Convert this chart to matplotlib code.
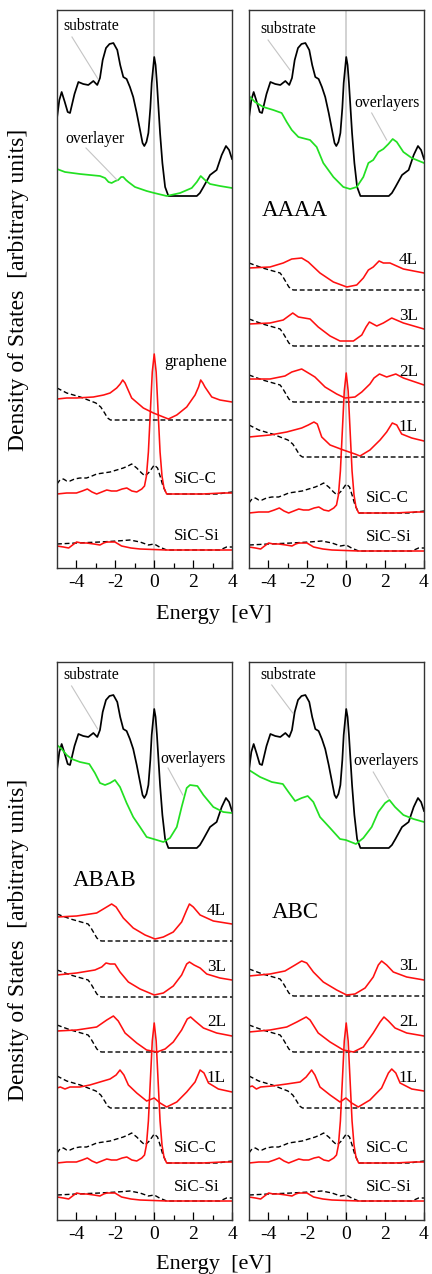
import matplotlib.pyplot as plt

plt.rcParams['font.family'] = ['Liberation Serif', 'DejaVu Serif']
plt.rcParams['lines.solid_joinstyle'] = 'round'

# energies in eV, DOS in arbitrary (plot) units
# bulk substrate DOS, identical in all four panels
substrate = [(-5.0, 450), (-4.88, 468), (-4.76, 476), (-4.6, 466), (-4.45, 456), (-4.33, 455),
             (-4.1, 474), (-3.9, 486), (-3.65, 484), (-3.39, 483), (-3.13, 487), (-2.93, 483),
             (-2.79, 490), (-2.65, 508), (-2.48, 520), (-2.3, 524), (-2.1, 525), (-1.9, 518),
             (-1.75, 503), (-1.59, 491), (-1.42, 489), (-1.25, 481), (-1.08, 471), (-0.9, 455),
             (-0.73, 438), (-0.6, 425), (-0.51, 422), (-0.4, 426), (-0.3, 435), (-0.2, 460),
             (-0.13, 485), (0.0, 511), (0.07, 503), (0.14, 485), (0.22, 460), (0.3, 435),
             (0.42, 405), (0.56, 381), (0.73, 372), (2.19, 372), (2.35, 375), (2.53, 381),
             (2.87, 393), (3.21, 398), (3.47, 413), (3.69, 422), (3.85, 418), (4.0, 409)]

# overlayer DOS (green), one per stacking
over_single = [(-5.0, 399), (-4.59, 396), (-3.82, 394), (-2.79, 392), (-2.53, 390), (-2.35, 386),
               (-2.19, 385), (-2.0, 387), (-1.85, 388), (-1.7, 391), (-1.59, 391), (-1.45, 388),
               (-1.33, 386), (-0.99, 381), (-0.39, 377), (0.0, 375), (0.64, 372), (1.33, 375),
               (1.93, 380), (2.19, 386), (2.39, 392), (2.61, 388), (2.87, 384), (3.38, 382),
               (4.0, 380)]
over_aaaa = [(-5.0, 472), (-4.69, 466), (-4.26, 461), (-3.75, 458), (-3.32, 455), (-3.06, 446),
             (-2.8, 438), (-2.46, 431), (-1.86, 428), (-1.52, 421), (-1.18, 405), (-0.66, 391),
             (-0.15, 381), (0.2, 379), (0.54, 381), (0.88, 391), (1.14, 405), (1.39, 408),
             (1.65, 416), (1.91, 419), (2.17, 424), (2.39, 429), (2.6, 426), (2.94, 416),
             (3.37, 410), (4.0, 405)]
over_abab = [(-5.0, 475), (-4.76, 471), (-4.5, 465), (-4.24, 461), (-3.82, 458), (-3.34, 456),
             (-3.05, 447), (-2.79, 437), (-2.53, 435), (-2.27, 437), (-2.02, 440), (-1.76, 433),
             (-1.42, 417), (-1.08, 403), (-0.73, 393), (-0.39, 383), (-0.04, 381), (0.47, 378),
             (0.81, 382), (1.16, 393), (1.41, 413), (1.67, 432), (1.84, 435), (2.22, 434),
             (2.53, 425), (3.04, 413), (3.55, 408), (4.0, 407)]
over_abc = [(-5.0, 450), (-4.43, 443), (-3.83, 438), (-3.26, 436), (-2.97, 428), (-2.63, 419),
            (-2.29, 422), (-1.98, 424), (-1.69, 418), (-1.35, 403), (-0.83, 392), (-0.32, 381),
            (-0.02, 380), (0.5, 376), (0.88, 382), (1.31, 393), (1.65, 408), (2.0, 417),
            (2.22, 420), (2.51, 413), (2.94, 405), (3.46, 401), (4.0, 398)]

# layer-projected DOS, relative to each layer's own baseline
bulk_1L = [(-5.0, 32), (-4.5, 27), (-3.8, 23), (-3.0, 17), (-2.75, 13), (-2.55, 7), (-2.4, 2),
           (-2.25, 0), (4.0, 0)]
bulk_nL = [(-5.0, 27), (-4.3, 22), (-3.4, 17), (-3.25, 13), (-3.1, 8), (-2.95, 3), (-2.8, 0.5),
           (-2.7, 0), (4.0, 0)]

sicc_red = [(-5.0, 0), (-4.5, 1), (-4.0, 1), (-3.7, 3), (-3.44, 5), (-3.2, 2), (-2.96, 0),
            (-2.7, 2), (-2.44, 4), (-2.2, 3), (-1.93, 3), (-1.65, 5), (-1.41, 6), (-1.15, 3),
            (-0.9, 2), (-0.64, 5), (-0.5, 8), (-0.4, 18), (-0.3, 42), (-0.2, 82), (-0.1, 122),
            (0.0, 140), (0.1, 122), (0.2, 82), (0.3, 42), (0.4, 18), (0.5, 6), (0.64, 0),
            (2.5, 0), (3.5, 1), (4.0, 1)]
sicc_dash = [(-5.0, 10), (-4.85, 14), (-4.67, 15), (-4.5, 13), (-4.33, 13), (-4.1, 15),
             (-3.82, 16), (-3.48, 16), (-3.2, 18), (-2.96, 20), (-2.27, 22), (-1.59, 26),
             (-1.35, 28), (-1.16, 30), (-0.9, 26), (-0.65, 21), (-0.47, 18), (-0.25, 22),
             (0.0, 29), (0.17, 26), (0.3, 18), (0.45, 8), (0.64, 0), (3.3, 0), (3.6, 1), (4.0, 2)]
sicsi_red = [(-5.0, 4), (-4.67, 3), (-4.4, 2), (-4.2, 5), (-3.99, 8), (-3.75, 7), (-3.48, 7),
             (-3.1, 6), (-2.79, 5), (-2.6, 7), (-2.44, 8), (-2.02, 8), (-1.85, 6), (-1.68, 4),
             (-1.2, 2), (-0.73, 1), (0.64, 0), (4.0, 0)]
sicsi_dash = [(-5.0, 6), (-4.0, 7), (-2.79, 8), (-1.9, 9), (-1.25, 10), (-0.73, 8), (-0.3, 5),
              (0.0, 6), (0.27, 3), (0.64, 0), (3.38, 0), (3.72, 3), (4.0, 3)]

graphene = [(-5.0, 21), (-4.5, 22), (-4.0, 22), (-3.13, 23), (-2.6, 25), (-2.27, 27), (-1.93, 32),
            (-1.75, 36), (-1.62, 40), (-1.5, 37), (-1.41, 33), (-1.16, 22), (-0.56, 12),
            (-0.04, 7), (0.47, 3), (0.73, 1), (1.16, 5), (1.67, 13), (2.1, 25), (2.28, 33),
            (2.39, 40), (2.5, 37), (2.61, 33), (2.96, 23), (3.38, 20), (4.0, 18)]

aaaa_4L = [(-5.0, 22), (-3.92, 23), (-3.24, 27), (-2.8, 31), (-2.29, 32), (-1.95, 28), (-1.35, 17),
           (-0.66, 8), (0.03, 3), (0.54, 5), (0.88, 12), (1.14, 20), (1.39, 23), (1.69, 29),
           (1.91, 27), (2.25, 27), (2.94, 21), (4.0, 17)]
aaaa_3L = [(-5.0, 22), (-3.92, 23), (-3.24, 26), (-2.75, 33), (-2.46, 29), (-1.86, 27), (-1.44, 19),
           (-0.83, 10), (-0.32, 5), (0.37, 5), (0.8, 11), (1.02, 19), (1.19, 24), (1.57, 20),
           (1.91, 23), (2.34, 28), (2.94, 23), (4.0, 17)]
aaaa_2L = [(-5.0, 23), (-3.92, 23), (-3.15, 26), (-2.8, 30), (-2.29, 33), (-1.86, 28), (-1.61, 25),
           (-1.09, 15), (-0.49, 8), (-0.06, 4), (0.45, 5), (0.8, 10), (1.22, 18), (1.43, 24),
           (1.71, 28), (2.08, 25), (2.55, 28), (2.94, 24), (4.0, 17)]
aaaa_1L = [(-5.0, 20), (-3.92, 22), (-3.06, 25), (-2.29, 29), (-1.95, 32), (-1.66, 35), (-1.49, 33),
           (-1.26, 20), (-0.83, 12), (-0.15, 7), (0.45, 3), (0.71, 1), (1.22, 7), (1.74, 17),
           (2.08, 25), (2.37, 34), (2.6, 32), (2.85, 23), (3.37, 19), (4.0, 16)]

abab_4L = [(-5.0, 24), (-3.99, 25), (-2.96, 28), (-2.53, 33), (-2.19, 37), (-1.96, 34), (-1.59, 23),
           (-1.08, 13), (-0.47, 6), (0.04, 2), (0.47, 4), (0.98, 9), (1.41, 19), (1.67, 31),
           (1.81, 37), (2.01, 34), (2.36, 26), (3.04, 20), (4.0, 17)]
abab_3L = [(-5.0, 22), (-3.99, 24), (-3.05, 27), (-2.7, 30), (-2.48, 34), (-2.27, 33), (-2.02, 33),
           (-1.76, 25), (-1.33, 15), (-0.73, 8), (0.0, 2), (0.47, 4), (0.98, 11), (1.41, 22),
           (1.67, 33), (1.81, 35), (2.05, 32), (2.36, 29), (2.7, 23), (3.38, 19), (4.0, 17)]
abab_2L = [(-5.0, 21), (-3.99, 22), (-2.96, 25), (-2.44, 32), (-2.1, 36), (-1.85, 31), (-1.5, 19),
           (-0.9, 9), (-0.39, 2), (0.14, 0), (0.56, 3), (0.98, 10), (1.41, 22), (1.7, 33),
           (1.87, 35), (2.1, 31), (2.53, 24), (3.21, 19), (4.0, 16)]
abab_1L = [(-5.0, 20), (-4.83, 21), (-4.59, 19), (-4.33, 21), (-3.82, 21), (-3.31, 23), (-2.79, 26),
           (-2.27, 29), (-1.96, 33), (-1.76, 38), (-1.56, 33), (-1.33, 23), (-0.9, 15), (-0.39, 7),
           (0.0, 10), (0.3, 5), (0.64, 1), (1.16, 6), (1.67, 16), (2.1, 26), (2.36, 38),
           (2.56, 35), (2.79, 25), (3.3, 19), (4.0, 16)]

abc_3L = [(-5.0, 20), (-3.92, 22), (-3.15, 25), (-2.63, 31), (-2.29, 35), (-2.03, 33), (-1.69, 24),
          (-1.18, 14), (-0.49, 6), (0.02, 1), (0.45, 2), (0.97, 8), (1.39, 19), (1.65, 31),
          (1.82, 35), (2.08, 31), (2.42, 24), (3.11, 19), (4.0, 16)]
abc_2L = [(-5.0, 20), (-3.92, 22), (-3.06, 25), (-2.54, 30), (-2.06, 35), (-1.86, 32), (-1.44, 19),
          (-0.83, 10), (-0.15, 2), (0.37, 0), (0.88, 5), (1.39, 19), (1.74, 30), (1.94, 35),
          (2.17, 31), (2.51, 24), (3.11, 19), (4.0, 16)]
abc_1L = [(-5.0, 21), (-4.83, 22), (-4.62, 19), (-4.4, 21), (-3.82, 22), (-3.06, 24), (-2.37, 26),
          (-2.06, 31), (-1.78, 38), (-1.61, 33), (-1.35, 21), (-0.83, 13), (-0.32, 6), (-0.02, 10),
          (0.28, 5), (0.62, 1), (1.22, 8), (1.82, 20), (2.17, 35), (2.34, 39), (2.55, 35),
          (2.77, 25), (3.37, 19), (4.0, 17)]

xticks = [-4, -2, 0, 2, 4]

GREEN = '#22e022'
RED = '#ff1010'
GREY = '#cfcfcf'
FS_LAB = 12.3


def xy(curve, base=0):
    return [p[0] for p in curve], [p[1] + base for p in curve]


def layer(ax, red, dash, base, label, lx, ly):
    ax.plot(*xy(dash, base), color='k', lw=1.0, ls=(0, (3.5, 2)))
    ax.plot(*xy(red, base), color=RED, lw=1.15)
    ax.text(lx, base + ly, label, ha='right', va='center', fontsize=FS_LAB)


def panel(ax, green, layers, sicc_base, sicsi_base, sub_txt, sub_line, ov_txt, ov_line, stack=None):
    ax.axvline(0, color=GREY, lw=1.3, zorder=0)
    ax.plot(*xy(substrate), color='k', lw=1.25)
    ax.plot(*xy(green), color=GREEN, lw=1.25)
    # labels with thin leader lines
    ax.plot([sub_line[0], sub_line[2]], [sub_line[1], sub_line[3]], color='#c4c4c4', lw=0.8)
    ax.text(sub_txt[0], sub_txt[1], sub_txt[2], fontsize=11.3, va='center')
    ax.plot([ov_line[0], ov_line[2]], [ov_line[1], ov_line[3]], color='#c4c4c4', lw=0.8)
    ax.text(ov_txt[0], ov_txt[1], ov_txt[2], fontsize=11.3, va='center')
    if stack:
        ax.text(stack[0], stack[1], stack[2], fontsize=16.5, va='center')
    for red, dash, base, label, lx, ly in layers:
        layer(ax, red, dash, base, label, lx, ly)
    layer(ax, sicc_red, sicc_dash, sicc_base, 'SiC-C', 3.23, 15)
    layer(ax, sicsi_red, sicsi_dash, sicsi_base, 'SiC-Si', 3.38, 14)

    ax.set_xlim(-5, 4)
    ax.set_ylim(0, 558)
    ax.set_yticks([])
    ax.set_xticks(xticks)
    ax.set_xticks([-3, -1, 1, 3], minor=True)
    ax.set_xticklabels([str(t) for t in xticks], fontsize=14)
    ax.tick_params(axis='x', which='major', direction='in', length=6, width=0.9, pad=4)
    ax.tick_params(axis='x', which='minor', direction='in', length=3.5, width=0.9)
    for s in ax.spines.values():
        s.set_color('#333333')
        s.set_linewidth(1.0)


fig = plt.figure(figsize=(4.32, 12.74), dpi=100)
W = 175 / 432
H = 558 / 1274
ax_tl = fig.add_axes([57 / 432, 1 - 568 / 1274, W, H])
ax_tr = fig.add_axes([249 / 432, 1 - 568 / 1274, W, H])
ax_bl = fig.add_axes([57 / 432, 1 - 1220 / 1274, W, H])
ax_br = fig.add_axes([249 / 432, 1 - 1220 / 1274, W, H])

panel(ax_tl, over_single,
      [(graphene, bulk_1L, 148, 'graphene', 3.74, 58)],
      74, 18,
      (-4.69, 542, 'substrate'), (-4.23, 531, -2.89, 489),
      (-4.59, 429, 'overlayer'), (-3.51, 420, -1.91, 388))

panel(ax_tr, over_aaaa,
      [(aaaa_4L, bulk_nL, 278, '4L', 3.69, 30), (aaaa_3L, bulk_nL, 222, '3L', 3.69, 30),
       (aaaa_2L, bulk_nL, 166, '2L', 3.69, 30), (aaaa_1L, bulk_1L, 111, '1L', 3.69, 30)],
      55, 17,
      (-4.43, 539, 'substrate'), (-4.02, 528, -2.89, 498),
      (0.4, 465, 'overlayers'), (1.31, 455, 2.08, 428),
      stack=(-4.33, 358, 'AAAA'))

panel(ax_bl, over_abab,
      [(abab_4L, bulk_nL, 279, '4L', 3.69, 30), (abab_3L, bulk_nL, 223, '3L', 3.69, 30),
       (abab_2L, bulk_nL, 168, '2L', 3.69, 30), (abab_1L, bulk_1L, 112, '1L', 3.69, 30)],
      57, 19,
      (-4.69, 545, 'substrate'), (-4.25, 534, -2.91, 491),
      (0.3, 461, 'overlayers'), (0.71, 452, 1.47, 425),
      stack=(-4.18, 340, 'ABAB'))

panel(ax_br, over_abc,
      [(abc_3L, bulk_nL, 224, '3L', 3.69, 30), (abc_2L, bulk_nL, 168, '2L', 3.69, 30),
       (abc_1L, bulk_1L, 112, '1L', 3.69, 30)],
      57, 19,
      (-4.43, 545, 'substrate'), (-3.83, 535, -2.75, 507),
      (0.35, 459, 'overlayers'), (1.39, 448, 2.17, 422),
      stack=(-3.82, 307, 'ABC'))

ylab = 'Density of States  [arbitrary units]'
fig.text(19 / 432, 1 - 290 / 1274, ylab, rotation=90, ha='center', va='center', fontsize=17)
fig.text(19 / 432, 1 - 940 / 1274, ylab, rotation=90, ha='center', va='center', fontsize=17)
fig.text(214 / 432, 1 - 615 / 1274, 'Energy  [eV]', ha='center', va='center', fontsize=16)
fig.text(214 / 432, 1 - 1265 / 1274, 'Energy  [eV]', ha='center', va='center', fontsize=16)

fig.savefig('out.png', dpi=100)
